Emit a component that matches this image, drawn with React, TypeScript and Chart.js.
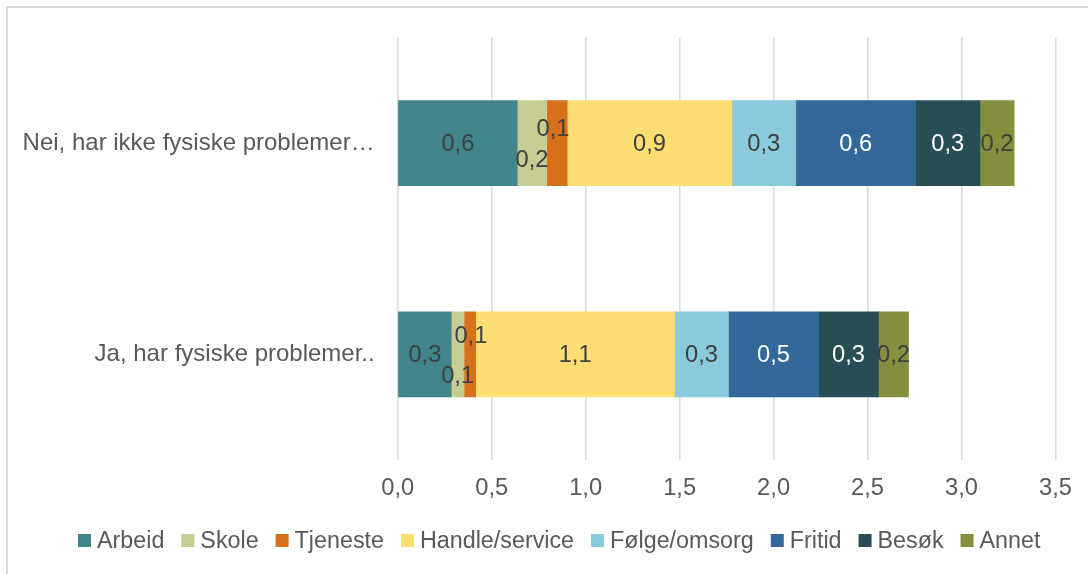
import React, { useEffect, useRef } from "react";
import { Chart, registerables } from "chart.js";

Chart.register(...registerables);

const categories = ["Nei, har ikke fysiske problemer…", "Ja, har fysiske problemer.."];
const seriesNames = ["Arbeid", "Skole", "Tjeneste", "Handle/service", "Følge/omsorg", "Fritid", "Besøk", "Annet"];
const arbeid = [0.636, 0.285];
const skole = [0.157, 0.068];
const tjeneste = [0.109, 0.062];
const handle = [0.876, 1.058];
const folge = [0.34, 0.287];
const fritid = [0.638, 0.479];
const besok = [0.342, 0.319];
const annet = [0.182, 0.16];
const xMin = 0;
const xMax = 3.5;
const xStep = 0.5;

const seriesValues = [arbeid, skole, tjeneste, handle, folge, fritid, besok, annet];
const colors = ["#41858B", "#C6CC92", "#D4711A", "#FEDE72", "#8BC9DC", "#346899", "#264E54", "#868F3F"];
const whiteLabelSeries = [5, 6];
// label nudges for narrow segments (dataset-index - category-index) -> [dx, dy]
const labelOffsets: Record<string, [number, number]> = {
  "1-0": [0, 16],
  "2-0": [-4, -15],
  "1-1": [0, 21],
  "2-1": [1, -19],
};

const FONT = '"Liberation Sans", Arial, sans-serif';
const fmt = (v: number) => Number(v).toFixed(1).replace(".", ",");

const segLabels = {
  id: "segLabels",
  afterDatasetsDraw(chart: any) {
    const ctx = chart.ctx;
    ctx.save();
    ctx.font = `23.7px ${FONT}`;
    ctx.textAlign = "center";
    ctx.textBaseline = "middle";
    chart.data.datasets.forEach((ds: any, di: number) => {
      const meta = chart.getDatasetMeta(di);
      meta.data.forEach((bar: any, i: number) => {
        const v = ds.data[i];
        const p = bar.getProps(["x", "y", "base"], true);
        const cx = (p.x + p.base) / 2;
        const off = labelOffsets[`${di}-${i}`] || [0, 0];
        ctx.fillStyle = whiteLabelSeries.includes(di) ? "#ffffff" : "#404040";
        ctx.fillText(fmt(v), cx + off[0], p.y + off[1] + 1);
      });
    });
    ctx.restore();
  },
};

const customLegend = {
  id: "customLegend",
  afterDraw(chart: any) {
    const ctx = chart.ctx;
    ctx.save();
    ctx.font = `23.3px ${FONT}`;
    ctx.textAlign = "left";
    ctx.textBaseline = "middle";
    let x = 78;
    const yc = 540.5;
    seriesNames.forEach((n, i) => {
      ctx.fillStyle = colors[i];
      ctx.fillRect(x, yc - 6.5, 13, 13);
      x += 13 + 6;
      ctx.fillStyle = "#595959";
      ctx.fillText(n, x, yc + 1);
      x += ctx.measureText(n).width + 17;
    });
    ctx.restore();
  },
};

export default function App() {
  const ref = useRef<HTMLCanvasElement | null>(null);
  useEffect(() => {
    if (!ref.current) return;
    const chart = new Chart(ref.current, {
      type: "bar",
      data: {
        labels: categories,
        datasets: seriesNames.map((name, i) => ({
          label: name,
          data: seriesValues[i],
          backgroundColor: colors[i],
          borderWidth: 0,
          barThickness: 85,
        })),
      },
      options: {
        indexAxis: "y",
        animation: false,
        responsive: false,
        maintainAspectRatio: false,
        layout: { padding: { top: 36, right: 32.5, bottom: 64, left: 0 } },
        plugins: { legend: { display: false }, tooltip: { enabled: false } },
        scales: {
          x: {
            stacked: true,
            min: xMin,
            max: xMax,
            ticks: {
              stepSize: xStep,
              callback: (v: any) => fmt(v),
              font: { family: FONT, size: 23.7 },
              color: "#595959",
              padding: 14,
              maxRotation: 0,
              autoSkip: false,
            },
            grid: { color: "#dadada", lineWidth: 1.5, drawTicks: false },
            border: { display: false },
            afterFit: (s: any) => {
              s.height = 50;
            },
          },
          y: {
            stacked: true,
            ticks: { font: { family: FONT, size: 24 }, color: "#595959", padding: 23 },
            grid: { display: false, drawTicks: false },
            border: { display: false },
            afterFit: (s: any) => {
              s.width = 397.7;
            },
          },
        },
      },
      plugins: [segLabels, customLegend],
    } as any);
    return () => chart.destroy();
  }, []);

  return (
    <>
      <div
        style={{
          position: "fixed",
          left: 6,
          top: 6,
          width: 1200,
          height: 800,
          border: "2px solid #d9d9d9",
          boxSizing: "border-box",
        }}
      />
      <canvas
        ref={ref}
        width={1088}
        height={574}
        style={{ position: "fixed", left: 0, top: 0, width: 1088, height: 574 }}
      />
    </>
  );
}
